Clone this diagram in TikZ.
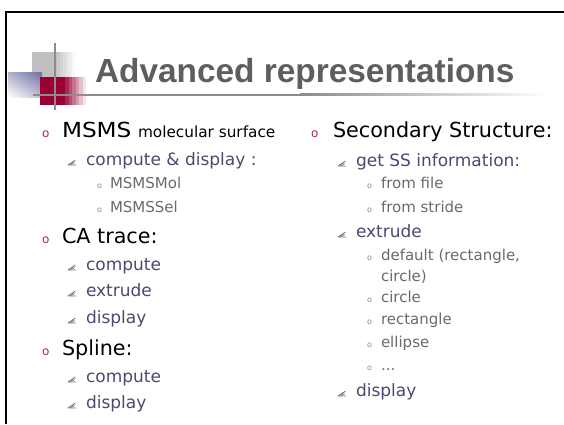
\documentclass[tikz,border=0pt]{standalone}
\usepackage{fontspec}
\usetikzlibrary{shadings}
\setmainfont{DejaVu Sans}
\newfontfamily\headfont{Liberation Sans}
\newfontfamily\widefont[FakeStretch=1.12]{DejaVu Sans}

\definecolor{titlegrey}{HTML}{5E5E5E}
\definecolor{bulletred}{HTML}{A62A52}
\definecolor{subblue}{HTML}{4A4A70}
\definecolor{itemgrey}{HTML}{6B6B6B}
\definecolor{nibgrey}{HTML}{74748A}
\definecolor{logogrey}{HTML}{C0C0C0}
\definecolor{logored}{HTML}{990033}
\definecolor{logoblue}{HTML}{6E6EA2}
\definecolor{rulegrey}{HTML}{8C8C8C}

\tikzset{
  txt/.style={anchor=base west, inner sep=0pt, outer sep=0pt},
  lvlone/.style={txt, text=black, font=\fontsize{20.7}{24}\selectfont},
  lvlsmall/.style={txt, text=black, font=\fontsize{15.3}{18}\selectfont},
  lvltwo/.style={txt, text=subblue, font=\fontsize{17}{20}\selectfont},
  lvlthree/.style={txt, text=itemgrey, font=\fontsize{15}{18}\selectfont},
  redbullet/.style={txt, text=bulletred, font=\fontsize{12}{14}\selectfont},
  greybullet/.style={txt, text=itemgrey!80!white, font=\fontsize{8}{9}\selectfont},
  nibmark/.pic={
    \draw[nibgrey, line width=0.8pt, line join=round]
      (7.5,-5) -- (0,0) -- (8,0);
    \draw[nibgrey, line width=0.7pt] (1.8,-0.8) -- (5.8,-3.6);
    \draw[nibgrey, line width=0.7pt] (3.2,-0.2) -- (6.6,-2.6);
  }
}

\begin{document}
\begin{tikzpicture}[x=1pt, y=-1pt]
  \useasboundingbox (0,0) rectangle (564,424);
  \fill[white] (0,0) rectangle (564,424);

  % slide frame: top and left edges
  \draw[line width=2.5pt] (6,424) -- (6,12) -- (564,12);

  % logo: grey block with striped fade
  \fill[logogrey] (32,52) rectangle (57,78);
  \foreach \i in {0,...,5}{
    \pgfmathsetmacro{\p}{85-\i*15}
    \fill[logogrey!\p!white] ({57+\i*3},52) rectangle ({60+\i*3},78);
  }
  % logo: blue block
  \shade[upper left=logoblue!55!white, upper right=logoblue,
         lower left=white, lower right=logoblue!45!white]
    (8,72) rectangle (42,97);
  % logo: red block with striped fade
  \fill[logored] (40,77) rectangle (65,105);
  \foreach \i in {0,...,5}{
    \pgfmathsetmacro{\p}{85-\i*15}
    \fill[logored!\p!white] ({65+\i*3.5},77) rectangle ({68.5+\i*3.5},105);
  }
  % logo cross lines and title rule
  \fill[rulegrey] (54,43) rectangle (56,110);
  \fill[rulegrey] (33,93.5) rectangle (300,95.5);
  \shade[left color=rulegrey, right color=white] (300,93.5) rectangle (548,95.5);

  % title
  \node[txt, text=titlegrey, font=\headfont\bfseries\fontsize{33.4}{36}\selectfont]
    (title) at (95,82) {Advanced representations};

  % ---------- left column ----------
  \node[redbullet] (b1) at (42,137) {o};
  \node[lvlone, font=\widefont\fontsize{20.7}{24}\selectfont] (msms) at (62,137) {MSMS};
  \node[lvlsmall] (msmsdesc) at (138,137) {molecular surface};

  \pic at (68,165) {nibmark};
  \node[lvltwo] (cd) at (86,165) {compute \& display :};
  \node[greybullet] (g1) at (97,188) {o};
  \node[lvlthree] (msmsmol) at (110,188) {MSMSMol};
  \node[greybullet] (g2) at (97,212) {o};
  \node[lvlthree] (msmssel) at (110,212) {MSMSSel};

  \node[redbullet] (b2) at (42,243) {o};
  \node[lvlone] (ca) at (62,243) {CA trace:};
  \pic at (68,270) {nibmark};
  \node[lvltwo] (cacomp) at (86,270) {compute};
  \pic at (68,296) {nibmark};
  \node[lvltwo] (caext) at (86,296) {extrude};
  \pic at (68,323) {nibmark};
  \node[lvltwo] (cadisp) at (86,323) {display};

  \node[redbullet] (b3) at (42,355) {o};
  \node[lvlone] (spline) at (62,355) {Spline:};
  \pic at (68,382) {nibmark};
  \node[lvltwo] (spcomp) at (86,382) {compute};
  \pic at (68,408) {nibmark};
  \node[lvltwo] (spdisp) at (86,408) {display};

  % ---------- right column ----------
  \node[redbullet] (b4) at (311,137) {o};
  \node[lvlone] (ss) at (333,137) {Secondary Structure:};

  \pic at (338,166) {nibmark};
  \node[lvltwo] (getss) at (356,166) {get SS information:};
  \node[greybullet] (g3) at (367,188) {o};
  \node[lvlthree] (ffile) at (381,188) {from file};
  \node[greybullet] (g4) at (367,212) {o};
  \node[lvlthree] (fstride) at (381,212) {from stride};

  \pic at (338,237) {nibmark};
  \node[lvltwo] (ssext) at (356,237) {extrude};
  \node[greybullet] (g5) at (367,260) {o};
  \node[lvlthree] (deflt) at (381,260) {default (rectangle,};
  \node[lvlthree] (deflt2) at (381,281) {circle)};
  \node[greybullet] (g6) at (367,302) {o};
  \node[lvlthree] (circ) at (381,302) {circle};
  \node[greybullet] (g7) at (367,324) {o};
  \node[lvlthree] (rect) at (381,324) {rectangle};
  \node[greybullet] (g8) at (367,347) {o};
  \node[lvlthree] (ell) at (381,347) {ellipse};
  \node[greybullet] (g9) at (367,370) {o};
  \node[lvlthree] (dots) at (381,370) {...};

  \pic at (338,396) {nibmark};
  \node[lvltwo] (ssdisp) at (356,396) {display};
\end{tikzpicture}
\end{document}
